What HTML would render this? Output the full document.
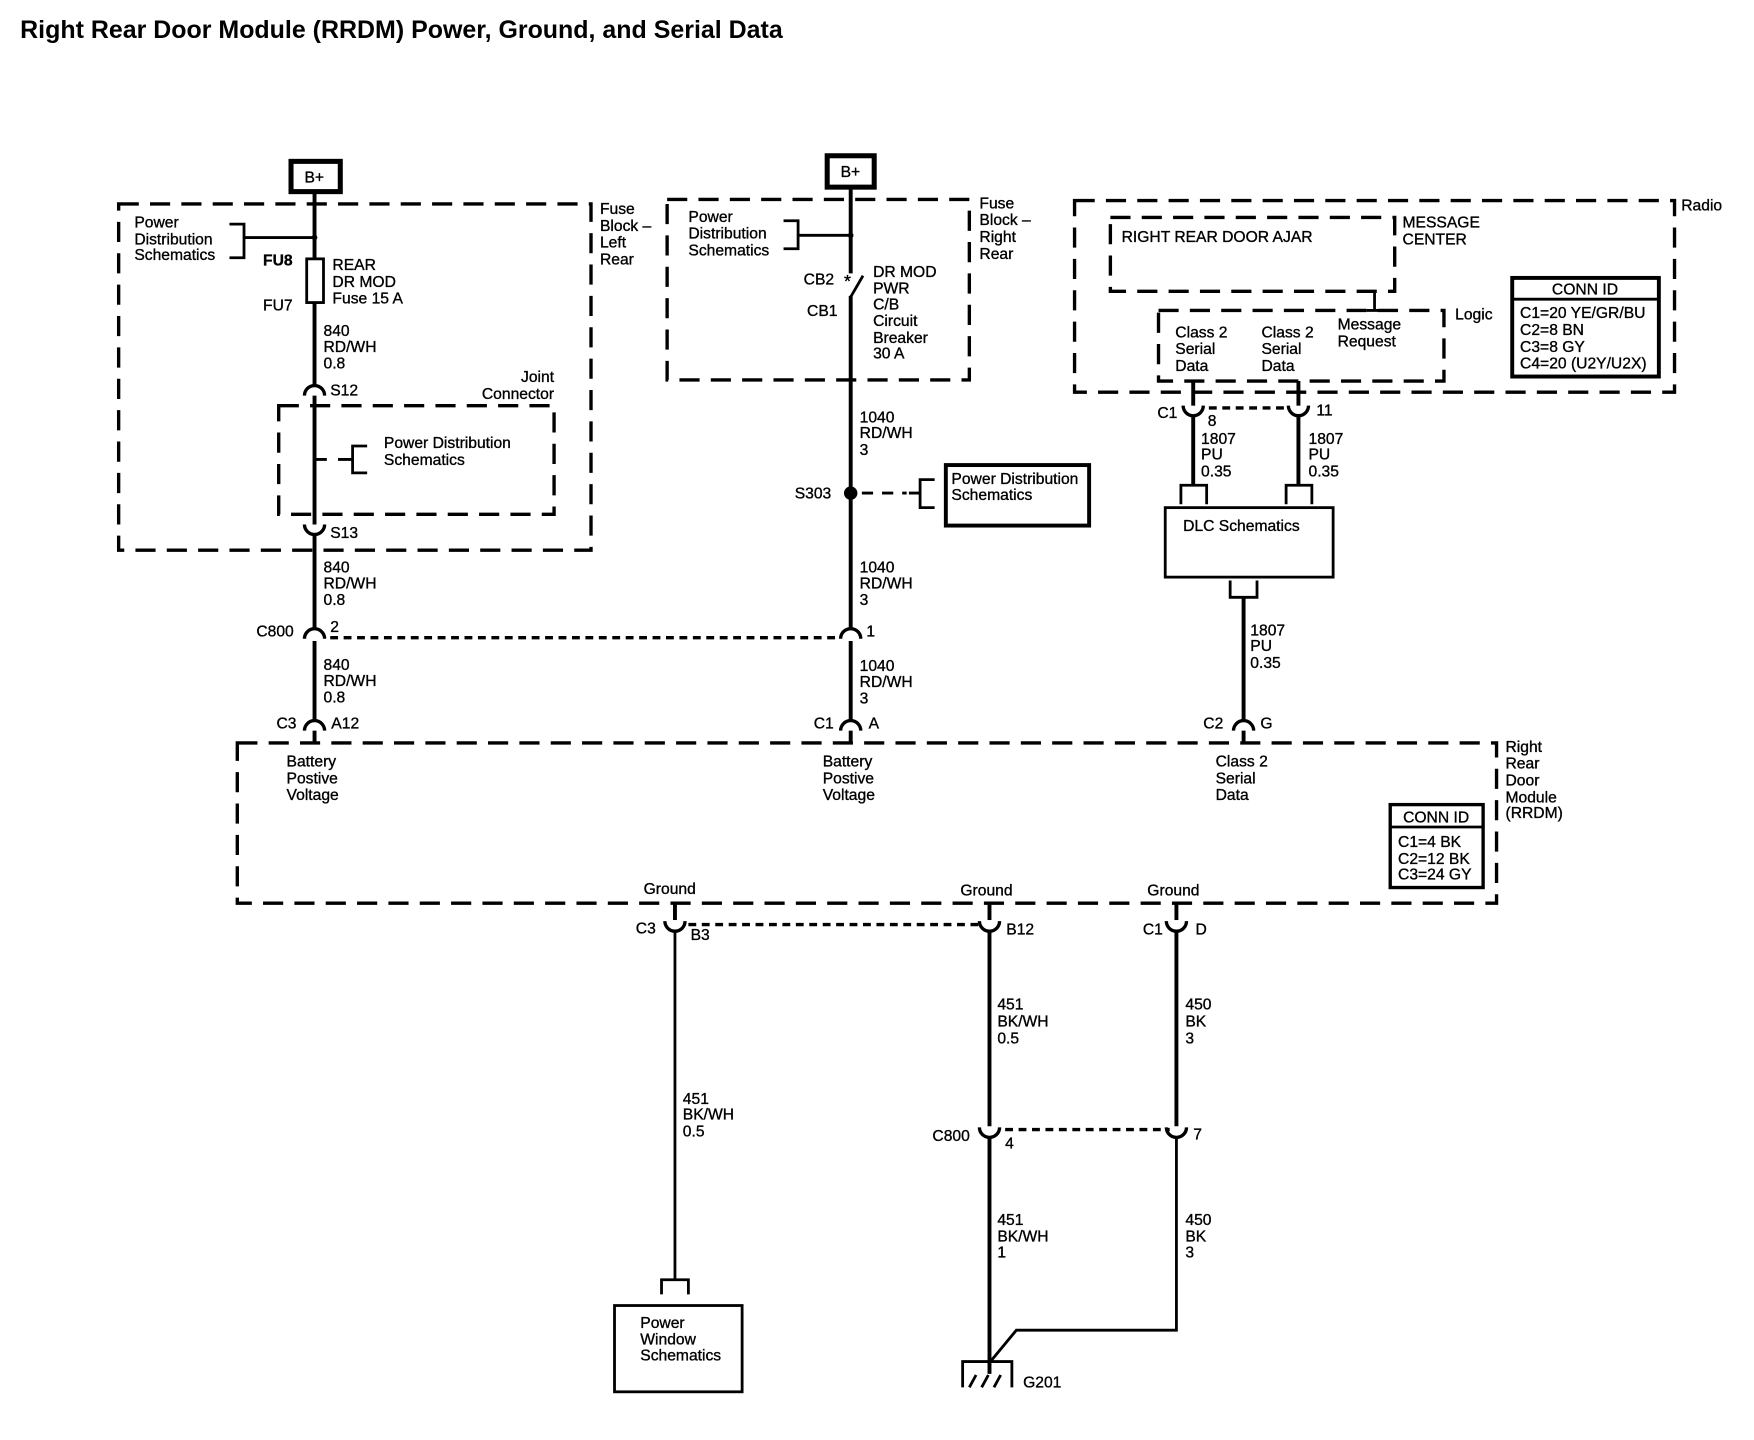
<!DOCTYPE html>
<html><head><meta charset="utf-8"><style>
html,body{margin:0;padding:0;background:#fff;}
svg{display:block;}
text{font-family:"Liberation Sans",Arial,sans-serif;font-size:14px;fill:#000;stroke:#000;stroke-width:0.3;}
.t{font-weight:bold;font-size:22.3px;stroke:none;}
.d{fill:none;stroke:#000;stroke-width:3;stroke-dasharray:18 10;}
.w{fill:none;stroke:#000;stroke-width:3.5;}
.n{fill:none;stroke:#000;stroke-width:2;}
.b{fill:none;stroke:#000;stroke-width:3.5;}
.dot{fill:none;stroke:#000;stroke-width:3;stroke-dasharray:7 5;}
</style></head><body>
<svg width="1754" height="1440" viewBox="0 0 1567 1285" preserveAspectRatio="none" xmlns="http://www.w3.org/2000/svg">
<text class="t" x="18" y="34">Right Rear Door Module (RRDM) Power, Ground, and Serial Data</text>

<!-- LEFT -->
<rect x="260" y="144" width="44" height="27" fill="none" stroke="#000" stroke-width="4.5"/>
<text x="272" y="163">B+</text>
<rect class="d" x="106" y="182" width="422" height="309"/>
<text x="536" y="191">Fuse</text><text x="536" y="206">Block –</text><text x="536" y="221">Left</text><text x="536" y="236">Rear</text>
<text x="120" y="203">Power</text><text x="120" y="218">Distribution</text><text x="120" y="232">Schematics</text>
<path class="b" d="M205 200 H218 V230 H205 M218 212 H281" style="stroke-width:2.5"/>
<circle cx="281" cy="212" r="2.5"/>
<line class="w" x1="281" y1="172" x2="281" y2="231"/>
<rect x="274" y="231" width="15" height="39" fill="none" stroke="#000" stroke-width="2.5"/>
<text x="235" y="237" style="font-weight:bold">FU8</text><text x="235" y="277">FU7</text>
<text x="297" y="241">REAR</text><text x="297" y="256">DR MOD</text><text x="297" y="271">Fuse 15 A</text>
<line class="w" x1="281" y1="270" x2="281" y2="344"/>
<text x="289" y="300">840</text><text x="289" y="314">RD/WH</text><text x="289" y="329">0.8</text>
<path class="n" d="M272 353 A9 9 0 0 1 290 353" style="stroke-width:3"/>
<text x="295" y="353">S12</text>
<text x="495" y="341" text-anchor="end">Joint</text><text x="495" y="356" text-anchor="end">Connector</text>
<rect class="d" x="249" y="362" width="246" height="97"/>
<line class="w" x1="281" y1="353" x2="281" y2="468"/>
<path class="n" d="M281 410 H292 M302 410 H315 M328 398 H315 V422 H328" style="stroke-width:2.5"/>
<text x="343" y="400">Power Distribution</text><text x="343" y="415">Schematics</text>
<path class="n" d="M272 468 A9 9 0 0 0 290 468" style="stroke-width:3"/>
<text x="295" y="480">S13</text>
<line class="w" x1="281" y1="476" x2="281" y2="561"/>
<text x="289" y="511">840</text><text x="289" y="525">RD/WH</text><text x="289" y="540">0.8</text>
<path class="n" d="M272 570 A9 9 0 0 1 290 570" style="stroke-width:3"/>
<text x="229" y="568">C800</text><text x="295" y="564">2</text>
<line class="dot" x1="295" y1="569" x2="750" y2="569"/>
<line class="w" x1="281" y1="572" x2="281" y2="643"/>
<text x="289" y="598">840</text><text x="289" y="612">RD/WH</text><text x="289" y="627">0.8</text>
<path class="n" d="M272 652 A9 9 0 0 1 290 652" style="stroke-width:3"/>
<text x="247" y="650">C3</text><text x="296" y="650">A12</text>
<line class="w" x1="281" y1="652" x2="281" y2="664"/>

<!-- MIDDLE -->
<rect x="739" y="139" width="42" height="28" fill="none" stroke="#000" stroke-width="4.5"/>
<text x="751" y="158">B+</text>
<rect class="d" x="596" y="178" width="270" height="161"/>
<text x="875" y="186">Fuse</text><text x="875" y="201">Block –</text><text x="875" y="216">Right</text><text x="875" y="231">Rear</text>
<text x="615" y="198">Power</text><text x="615" y="213">Distribution</text><text x="615" y="228">Schematics</text>
<path class="b" d="M700 197 H713 V222 H700 M713 210 H760" style="stroke-width:2.5"/>
<circle cx="760" cy="210" r="2.5"/>
<line class="w" x1="760" y1="168" x2="760" y2="244"/>
<text x="754" y="256" style="font-size:16px">*</text>
<text x="718" y="254">CB2</text><text x="721" y="282">CB1</text>
<line class="n" x1="760" y1="265" x2="771" y2="246" style="stroke-width:2.5"/>
<text x="780" y="247">DR MOD</text><text x="780" y="262">PWR</text><text x="780" y="276">C/B</text><text x="780" y="291">Circuit</text><text x="780" y="306">Breaker</text><text x="780" y="320">30 A</text>
<line class="w" x1="760" y1="264" x2="760" y2="561"/>
<text x="768" y="377">1040</text><text x="768" y="391">RD/WH</text><text x="768" y="406">3</text>
<circle cx="760" cy="440" r="6"/>
<text x="710" y="445">S303</text>
<path class="n" d="M770 440 H810" style="stroke-width:2.5;stroke-dasharray:10 8"/>
<path class="n" d="M812 440 H822 M835 428 H822 V453 H835" style="stroke-width:2.5"/>
<rect x="845" y="415" width="128" height="54" fill="none" stroke="#000" stroke-width="3.5"/>
<text x="850" y="432">Power Distribution</text><text x="850" y="446">Schematics</text>
<text x="768" y="511">1040</text><text x="768" y="525">RD/WH</text><text x="768" y="540">3</text>
<path class="n" d="M751 570 A9 9 0 0 1 769 570" style="stroke-width:3"/>
<text x="774" y="568">1</text>
<line class="w" x1="760" y1="572" x2="760" y2="643"/>
<text x="768" y="599">1040</text><text x="768" y="613">RD/WH</text><text x="768" y="628">3</text>
<path class="n" d="M751 652 A9 9 0 0 1 769 652" style="stroke-width:3"/>
<text x="727" y="650">C1</text><text x="776" y="650">A</text>
<line class="w" x1="760" y1="652" x2="760" y2="664"/>

<!-- RIGHT -->
<rect class="d" x="960" y="179" width="536" height="171"/>
<text x="1502" y="188">Radio</text>
<rect class="d" x="992" y="194" width="254" height="66"/>
<text x="1002" y="216">RIGHT REAR DOOR AJAR</text>
<text x="1253" y="203">MESSAGE</text><text x="1253" y="218">CENTER</text>
<path class="n" d="M1228 260 V277 M1221 277 H1235" style="stroke-width:2.5"/>
<rect class="d" x="1035" y="277" width="255" height="63"/>
<text x="1300" y="285">Logic</text>
<text x="1050" y="301">Class 2</text><text x="1050" y="316">Serial</text><text x="1050" y="331">Data</text>
<text x="1127" y="301">Class 2</text><text x="1127" y="316">Serial</text><text x="1127" y="331">Data</text>
<text x="1195" y="294">Message</text><text x="1195" y="309">Request</text>
<rect x="1351" y="248" width="131" height="88" fill="none" stroke="#000" stroke-width="3.5"/>
<line x1="1351" y1="267" x2="1482" y2="267" stroke="#000" stroke-width="2.5"/>
<text x="1416" y="263" text-anchor="middle">CONN ID</text>
<text x="1358" y="284">C1=20 YE/GR/BU</text><text x="1358" y="299">C2=8 BN</text><text x="1358" y="314">C3=8 GY</text><text x="1358" y="329">C4=20 (U2Y/U2X)</text>
<line class="w" x1="1066" y1="340" x2="1066" y2="362"/>
<line class="w" x1="1160" y1="340" x2="1160" y2="362"/>
<path class="n" d="M1057 362 A9 9 0 0 0 1075 362" style="stroke-width:3"/>
<path class="n" d="M1151 362 A9 9 0 0 0 1169 362" style="stroke-width:3"/>
<line class="dot" x1="1080" y1="364" x2="1150" y2="364"/>
<text x="1034" y="373">C1</text><text x="1079" y="380">8</text><text x="1176" y="371">11</text>
<line class="w" x1="1066" y1="371" x2="1066" y2="432"/>
<line class="w" x1="1160" y1="371" x2="1160" y2="432"/>
<text x="1073" y="396">1807</text><text x="1073" y="410">PU</text><text x="1073" y="425">0.35</text>
<text x="1169" y="396">1807</text><text x="1169" y="410">PU</text><text x="1169" y="425">0.35</text>
<path class="n" d="M1055 450 V433 H1078 V450 M1149 450 V433 H1172 V450" style="stroke-width:2.5"/>
<rect x="1041" y="453" width="150" height="62" fill="none" stroke="#000" stroke-width="2.5"/>
<text x="1057" y="474">DLC Schematics</text>
<path class="n" d="M1099 518 V533 H1123 V518" style="stroke-width:2.5"/>
<line class="w" x1="1111" y1="533" x2="1111" y2="643"/>
<text x="1117" y="567">1807</text><text x="1117" y="581">PU</text><text x="1117" y="596">0.35</text>
<path class="n" d="M1102 652 A9 9 0 0 1 1120 652" style="stroke-width:3"/>
<text x="1075" y="650">C2</text><text x="1126" y="650">G</text>
<line class="w" x1="1111" y1="652" x2="1111" y2="664"/>

<!-- MODULE -->
<rect class="d" x="212" y="663" width="1125" height="143"/>
<text x="1345" y="671">Right</text><text x="1345" y="686">Rear</text><text x="1345" y="701">Door</text><text x="1345" y="716">Module</text><text x="1345" y="730">(RRDM)</text>
<rect x="1242" y="718" width="83" height="74" fill="none" stroke="#000" stroke-width="3"/>
<line x1="1242" y1="738" x2="1325" y2="738" stroke="#000" stroke-width="2.5"/>
<text x="1283" y="734" text-anchor="middle">CONN ID</text>
<text x="1249" y="756">C1=4 BK</text><text x="1249" y="771">C2=12 BK</text><text x="1249" y="785">C3=24 GY</text>
<text x="256" y="684">Battery</text><text x="256" y="699">Postive</text><text x="256" y="714">Voltage</text>
<text x="735" y="684">Battery</text><text x="735" y="699">Postive</text><text x="735" y="714">Voltage</text>
<text x="1086" y="684">Class 2</text><text x="1086" y="699">Serial</text><text x="1086" y="714">Data</text>
<text x="575" y="798">Ground</text><text x="858" y="799">Ground</text><text x="1025" y="799">Ground</text>

<!-- GROUNDS -->
<line class="w" x1="603" y1="806" x2="603" y2="821"/>
<line class="w" x1="884" y1="806" x2="884" y2="821"/>
<line class="w" x1="1051" y1="806" x2="1051" y2="821"/>
<path class="n" d="M594 822 A9 9 0 0 0 612 822" style="stroke-width:3"/>
<path class="n" d="M875 822 A9 9 0 0 0 893 822" style="stroke-width:3"/>
<path class="n" d="M1042 822 A9 9 0 0 0 1060 822" style="stroke-width:3"/>
<line class="dot" x1="615" y1="825" x2="875" y2="825"/>
<text x="568" y="833">C3</text><text x="617" y="839">B3</text><text x="899" y="834">B12</text><text x="1021" y="834">C1</text><text x="1068" y="834">D</text>
<line class="n" x1="603" y1="831" x2="603" y2="1142" style="stroke-width:2.5"/>
<text x="610" y="985">451</text><text x="610" y="999">BK/WH</text><text x="610" y="1014">0.5</text>
<path class="n" d="M591 1155 V1142 H615 V1155" style="stroke-width:2.5"/>
<rect x="549" y="1165" width="114" height="77" fill="none" stroke="#000" stroke-width="2.5"/>
<text x="572" y="1185">Power</text><text x="572" y="1200">Window</text><text x="572" y="1214">Schematics</text>

<line class="w" x1="884" y1="831" x2="884" y2="1005"/>
<text x="891" y="901">451</text><text x="891" y="916">BK/WH</text><text x="891" y="931">0.5</text>
<path class="n" d="M875 1006 A9 9 0 0 0 893 1006" style="stroke-width:3"/>
<text x="833" y="1018">C800</text><text x="898" y="1025">4</text>
<line class="dot" x1="898" y1="1008" x2="1045" y2="1008"/>
<line class="w" x1="1051" y1="831" x2="1051" y2="1005"/>
<path class="n" d="M1042 1006 A9 9 0 0 0 1060 1006" style="stroke-width:3"/>
<text x="1066" y="1017">7</text>
<text x="1059" y="901">450</text><text x="1059" y="916">BK</text><text x="1059" y="931">3</text>
<line class="w" x1="884" y1="1015" x2="884" y2="1226"/>
<text x="891" y="1093">451</text><text x="891" y="1108">BK/WH</text><text x="891" y="1122">1</text>
<path class="n" d="M1051 1015 V1187 H908 L884 1216" style="stroke-width:2.5"/>
<text x="1059" y="1093">450</text><text x="1059" y="1108">BK</text><text x="1059" y="1122">3</text>
<path class="n" d="M860 1238 V1215 H904 V1238 M866 1238 L872 1227 M877 1238 L883 1227 M888 1238 L894 1227" style="stroke-width:2.5"/>
<text x="914" y="1238">G201</text>
</svg>
</body></html>
